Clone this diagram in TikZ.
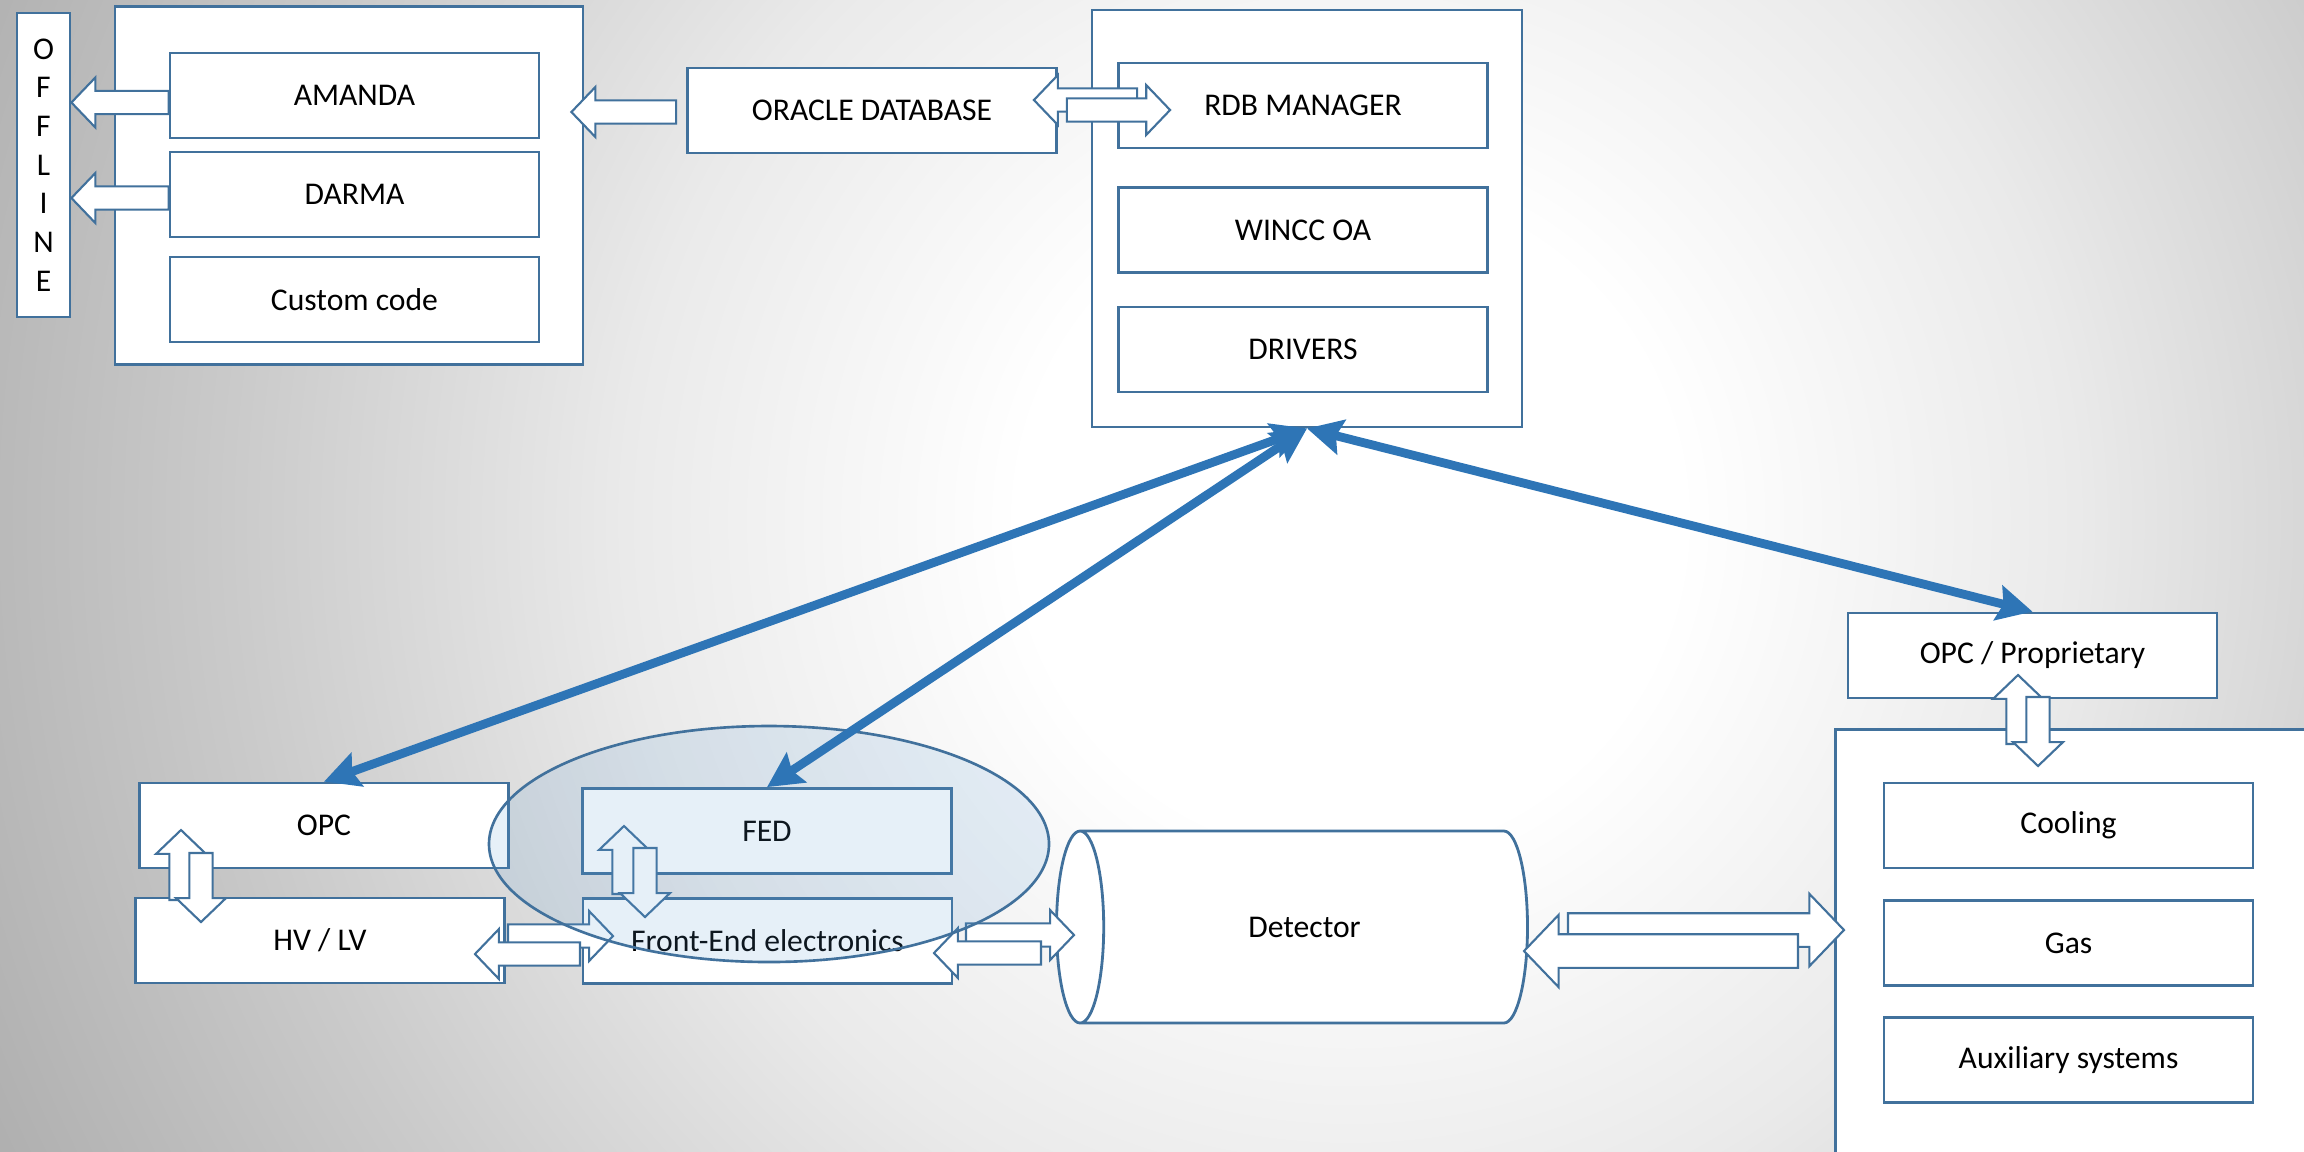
\documentclass[tikz,border=0pt]{standalone}
\usepackage{fontspec}
\setmainfont{Carlito}
\usetikzlibrary{calc,arrows.meta,shapes.geometric}

\definecolor{boxblue}{RGB}{65,113,156}
\definecolor{arrowblue}{RGB}{46,117,182}
\definecolor{haloblue}{RGB}{91,155,213}
\definecolor{bgwhite}{RGB}{255,255,255}
\definecolor{bglight}{RGB}{234,234,234}
\definecolor{bgmid}{RGB}{202,202,202}
\definecolor{bgdark}{RGB}{164,164,164}

\pgfdeclareradialshading{slideshade}{\pgfpoint{0bp}{0bp}}{color(0bp)=(bgwhite); color(5bp)=(bgwhite); color(11bp)=(bglight); color(17bp)=(bgmid); color(25bp)=(bgdark); color(50bp)=(bgdark)}

\tikzset{
  modbox/.style={draw=boxblue,line width=0.8pt,fill=white,minimum width=3.69cm,minimum height=0.85cm,inner sep=0pt},
  panel/.style={draw=boxblue,line width=0.8pt,fill=white,inner sep=0pt},
  hollow/.style={draw=boxblue,line width=0.6pt,fill=white,line join=miter},
  halo/.style={draw=boxblue,line width=0.75pt,fill=haloblue,fill opacity=0.15},
  thickarrow/.style={draw=arrowblue,line width=2.5pt,{Stealth[length=10pt,width=10pt,inset=1.5pt]}-{Stealth[length=10pt,width=10pt,inset=1.5pt]}}
}

\newcommand{\hollowarrow}[3][1]{%
  \pgfmathsetlengthmacro{\hashaft}{3.3pt*#1}%
  \pgfmathsetlengthmacro{\hahead}{7.1pt*#1}%
  \pgfmathsetlengthmacro{\hatip}{6.8pt*#1}%
  \coordinate (habase) at ($#3!\hatip!#2$);
  \draw[hollow] ($#2!\hashaft!90:#3$) -- ($(habase)!\hashaft!-90:#2$)
    -- ($(habase)!\hahead!-90:#2$) -- #3 -- ($(habase)!\hahead!90:#2$)
    -- ($(habase)!\hashaft!90:#2$) -- ($#2!\hashaft!-90:#3$) -- cycle;
}

\begin{document}
\begin{tikzpicture}[font=\fontsize{9}{11}\selectfont]
  \useasboundingbox (0,0) rectangle (23.04,-11.51);
  \begin{scope}
    \clip (0,0) rectangle (23.04,-11.51);
    \shade[shading=slideshade] (-3.0,-21.7) rectangle (30.0,11.3);
  \end{scope}

  \node[panel,minimum width=4.68cm,minimum height=3.58cm] (leftpanel) at (3.49,-1.855) {};
  \node[panel,minimum width=4.30cm,minimum height=4.17cm] (toppanel) at (13.07,-2.185) {};
  \node[panel,anchor=north west,minimum width=5cm,minimum height=5cm] (syspanel) at (18.34,-7.28) {};

  \node[modbox,minimum width=0.53cm,minimum height=3.04cm,align=center] (offline) at (0.435,-1.65) {O\\F\\F\\L\\I\\N\\E};
  \node[modbox] (amanda) at (3.545,-0.955) {AMANDA};
  \node[modbox] (darma) at (3.545,-1.945) {DARMA};
  \node[modbox] (custom) at (3.545,-2.995) {Custom code};
  \node[modbox] (oracle) at (8.72,-1.105) {ORACLE DATABASE};
  \node[modbox] (rdb) at (13.03,-1.055) {RDB MANAGER};
  \node[modbox] (wincc) at (13.03,-2.30) {WINCC OA};
  \node[modbox] (drivers) at (13.03,-3.495) {DRIVERS};

  \node[modbox] (opc) at (3.24,-8.255) {OPC};
  \node[modbox] (hvlv) at (3.20,-9.405) {HV / LV};
  \node[modbox] (fed) at (7.67,-8.31) {FED};
  \node[modbox] (fee) at (7.675,-9.41) {Front-End electronics};
  \node[cylinder,shape border rotate=180,draw=boxblue,line width=0.8pt,fill=white,minimum height=4.71cm,minimum width=1.92cm,aspect=2.3,inner sep=0pt] (detector) at (13.045,-9.27) {Detector};

  \node[modbox] (opcp) at (20.325,-6.555) {OPC / Proprietary};
  \node[modbox] (cooling) at (20.685,-8.255) {Cooling};
  \node[modbox] (gas) at (20.685,-9.43) {Gas};
  \node[modbox] (aux) at (20.685,-10.60) {Auxiliary systems};

  \coordinate (amandaout) at ($(amanda.west)+(0,-0.07)$);
  \coordinate (darmaout) at ($(darma.west)+(0,-0.035)$);
  \coordinate (oracleout) at ($(oracle.west)+(-0.1,-0.015)$);
  \coordinate (rdbout) at ($(rdb.west)+(0.2,0.055)$);
  \coordinate (oracleto) at ($(oracle.east)+(0.09,0.005)$);
  \hollowarrow{(amandaout)}{(offline.east |- amandaout)}
  \hollowarrow{(darmaout)}{(offline.east |- darmaout)}
  \hollowarrow{(oracleout)}{($(leftpanel.east |- oracleout)+(-0.13,0)$)}
  \hollowarrow{(rdbout)}{($(oracle.east |- rdbout)+(-0.24,0)$)}
  \hollowarrow{(oracleto)}{($(rdb.west |- oracleto)+(0.53,0)$)}

  \coordinate (opcup) at (1.81,-9.00);
  \coordinate (opcdown) at (2.01,-8.53);
  \coordinate (fedup) at (6.24,-8.94);
  \coordinate (feddown) at (6.45,-8.48);
  \coordinate (hvright) at (5.08,-9.36);
  \coordinate (feleft) at (5.80,-9.54);
  \coordinate (feright) at (9.66,-9.35);
  \coordinate (detleft) at (10.41,-9.53);
  \coordinate (detright) at (15.68,-9.30);
  \coordinate (sysleft) at (17.98,-9.51);
  \coordinate (opcpup) at (20.18,-7.44);
  \coordinate (opcpdown) at (20.38,-6.97);
  \hollowarrow{(opcup)}{(1.81,-8.30)}
  \hollowarrow{(opcdown)}{(2.01,-9.22)}
  \hollowarrow{(fedup)}{(6.24,-8.26)}
  \hollowarrow{(feddown)}{(6.45,-9.17)}
  \hollowarrow{(hvright)}{(6.13,-9.36)}
  \hollowarrow{(feleft)}{(4.75,-9.54)}
  \hollowarrow{(feright)}{(10.74,-9.35)}
  \hollowarrow{(detleft)}{(9.34,-9.53)}
  \hollowarrow[1.45]{(detright)}{(18.44,-9.30)}
  \hollowarrow[1.45]{(sysleft)}{(15.24,-9.51)}
  \hollowarrow{(opcpup)}{(20.18,-6.75)}
  \hollowarrow{(opcpdown)}{(20.38,-7.66)}

  \draw[halo] (7.69,-8.44) ellipse [x radius=2.80,y radius=1.18];

  \draw[thickarrow] (toppanel.south) -- (opc.north);
  \draw[thickarrow] (toppanel.south) -- (fed.north);
  \draw[thickarrow] (toppanel.south) -- (opcp.north);
\end{tikzpicture}
\end{document}
